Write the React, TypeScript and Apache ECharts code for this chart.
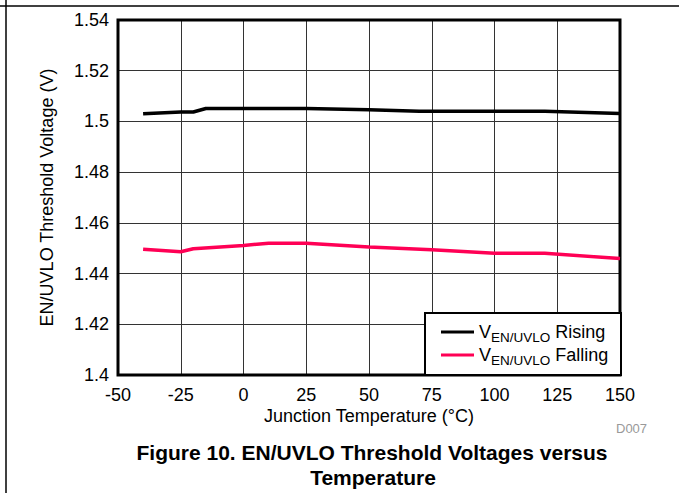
import React, { useEffect, useRef } from "react";
import * as echarts from "echarts";

const xTicks = [-50, -25, 0, 25, 50, 75, 100, 125, 150];
const yTicks = [1.4, 1.42, 1.44, 1.46, 1.48, 1.5, 1.52, 1.54];

const risingTemp = [-40, -25, -20, -15, 0, 25, 50, 70, 100, 120, 150];
const risingVolt = [1.503, 1.5037, 1.5037, 1.5051, 1.5051, 1.5051, 1.5046, 1.504, 1.504, 1.504, 1.5031];

const fallingTemp = [-40, -25, -20, 0, 10, 25, 50, 75, 100, 120, 150];
const fallingVolt = [1.4496, 1.4486, 1.4498, 1.4511, 1.452, 1.452, 1.4505, 1.4494, 1.448, 1.448, 1.4459];

const seriesNames = ["Rising", "Falling"];
const FONT = "Liberation Sans, Arial, sans-serif";

export default function App() {
  const ref = useRef<HTMLDivElement>(null);
  useEffect(() => {
    document.body.style.margin = "0";
    const chart = echarts.init(ref.current!, null, { renderer: "svg" });
    const zip = (xs: number[], ys: number[]) => xs.map((x, i) => [x, ys[i]]);
    chart.setOption({
      animation: false,
      textStyle: { fontFamily: FONT },
      grid: {
        left: 118,
        top: 20,
        width: 502,
        height: 355,
        show: true,
        borderColor: "#000",
        borderWidth: 3,
        z: 3,
      },
      xAxis: {
        type: "value",
        min: xTicks[0],
        max: xTicks[xTicks.length - 1],
        interval: 25,
        axisLine: { show: false },
        axisTick: { show: false },
        axisLabel: { color: "#000", fontSize: 18, lineHeight: 16, margin: 12, fontFamily: FONT },
        splitLine: { show: true, lineStyle: { color: "#333", width: 1 } },
        name: "Junction Temperature (°C)",
        nameLocation: "middle",
        nameGap: 33,
        nameMoveOverlap: false,
        nameTextStyle: { color: "#000", fontSize: 18, lineHeight: 16, fontFamily: FONT },
      },
      yAxis: {
        type: "value",
        min: yTicks[0],
        max: yTicks[yTicks.length - 1],
        interval: 0.02,
        axisLine: { show: false },
        axisTick: { show: false },
        axisLabel: {
          color: "#000",
          fontSize: 18,
          margin: 9,
          fontFamily: FONT,
          formatter: (v: number) => String(parseFloat(v.toFixed(2))),
        },
        splitLine: { show: true, lineStyle: { color: "#333", width: 1 } },
        name: "EN/UVLO Threshold Voltage (V)",
        nameLocation: "middle",
        nameGap: 62,
        nameTextStyle: { color: "#000", fontSize: 18, fontFamily: FONT },
      },
      legend: {
        orient: "vertical",
        left: 436,
        top: 318,
        z: 60,
        icon: "rect",
        itemWidth: 33,
        itemHeight: 3,
        itemGap: 2,
        selectedMode: false,
        data: seriesNames,
        formatter: (n: string) => `{v|V}{s|EN/UVLO}{v| ${n}}`,
        textStyle: {
          color: "#000",
          padding: [0, 0, 0, 0],
          rich: {
            v: { fontSize: 18, fontFamily: FONT, color: "#000", lineHeight: 20 },
            s: { fontSize: 13.5, fontFamily: FONT, color: "#000", lineHeight: 20, verticalAlign: "bottom", padding: [0, 0, -2, 0] },
          },
        },
      },
      graphic: [
        { type: "line", z: 10, shape: { x1: 0, y1: 6, x2: 679, y2: 6 }, style: { stroke: "#000", lineWidth: 1.5 } },
        { type: "line", z: 10, shape: { x1: 6, y1: 0, x2: 6, y2: 493 }, style: { stroke: "#000", lineWidth: 1.5 } },
        { type: "rect", z: 50, shape: { x: 425, y: 313, width: 196, height: 62 }, style: { fill: "#fff", stroke: "#000", lineWidth: 2 } },
        { type: "text", left: 616, top: 422, style: { text: "D007", fill: "#999", font: `13px ${FONT}` } },
        { type: "text", x: 372, y: 452, style: { text: "Figure 10. EN/UVLO Threshold Voltages versus", fill: "#000", font: `bold 21px ${FONT}`, align: "center", verticalAlign: "middle" } },
        { type: "text", x: 373, y: 477, style: { text: "Temperature", fill: "#000", font: `bold 21px ${FONT}`, align: "center", verticalAlign: "middle" } },
      ],
      series: [
        {
          name: seriesNames[0],
          type: "line",
          data: zip(risingTemp, risingVolt),
          symbol: "none",
          color: "#000",
          lineStyle: { width: 3.5, color: "#000" },
          z: 5,
        },
        {
          name: seriesNames[1],
          type: "line",
          data: zip(fallingTemp, fallingVolt),
          symbol: "none",
          color: "#ff0055",
          lineStyle: { width: 3.5, color: "#ff0055" },
          z: 5,
        },
      ],
    });
    return () => chart.dispose();
  }, []);
  return <div ref={ref} style={{ position: "absolute", left: 0, top: 0, width: 679, height: 493 }} />;
}
